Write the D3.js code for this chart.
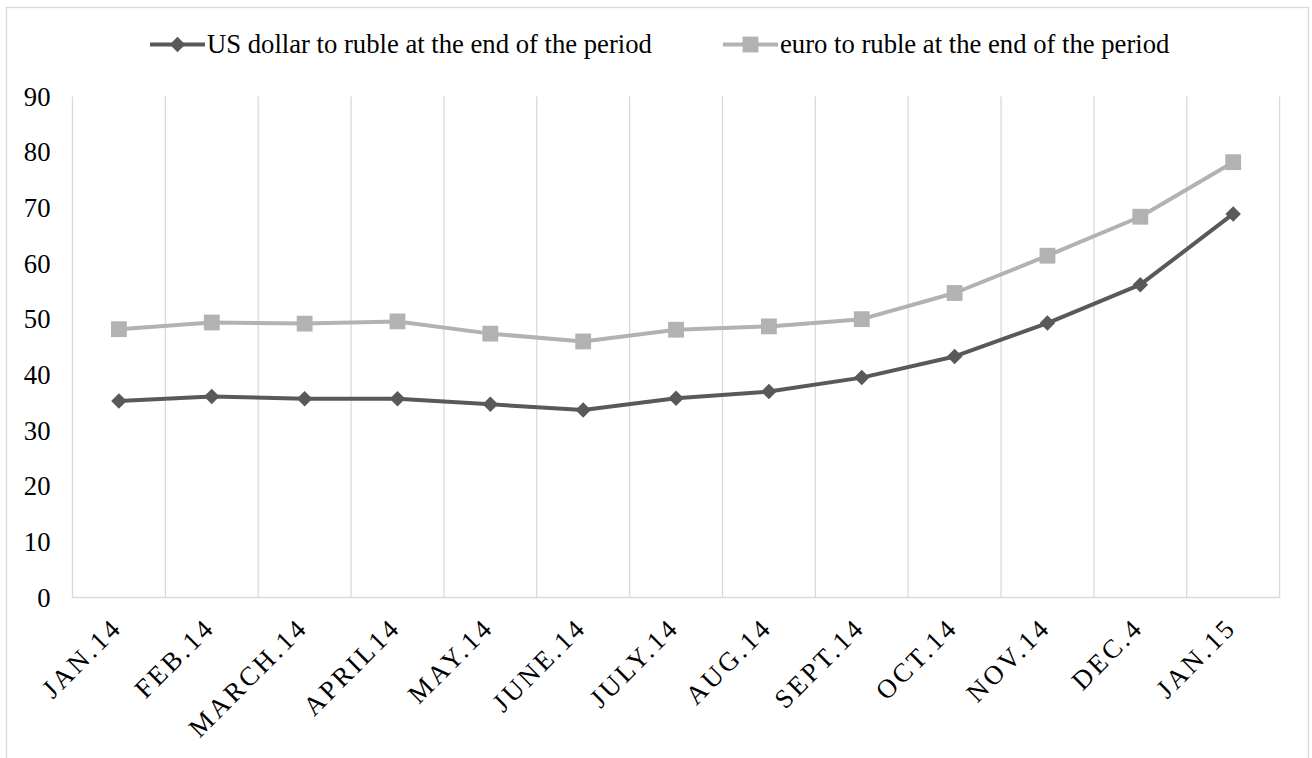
<!DOCTYPE html>
<html>
<head>
<meta charset="utf-8">
<script src="https://cdn.jsdelivr.net/npm/d3@7"></script>
<style>
  html, body { margin: 0; padding: 0; background: #ffffff; }
  svg { display: block; }
  text { font-family: "Liberation Serif", "Times New Roman", serif; fill: #000; }
</style>
</head>
<body>
<svg id="chart" width="1312" height="758"></svg>
<script>
// Monthly end-of-period exchange rates, rubles per unit of currency
const months = ["JAN.14", "FEB.14", "MARCH.14", "APRIL14", "MAY.14", "JUNE.14", "JULY.14",
                "AUG.14", "SEPT.14", "OCT.14", "NOV.14", "DEC.4", "JAN.15"];
const usdRub = [35.3, 36.1, 35.7, 35.7, 34.7, 33.7, 35.8, 37.0, 39.5, 43.3, 49.3, 56.2, 68.9];
const eurRub = [48.2, 49.4, 49.2, 49.6, 47.4, 46.0, 48.1, 48.7, 50.0, 54.7, 61.4, 68.4, 78.2];
const yTicks = [0, 10, 20, 30, 40, 50, 60, 70, 80, 90];
const seriesNames = ["US dollar to ruble at the end of the period",
                     "euro to ruble at the end of the period"];

const svg = d3.select("#chart");
const W = 1312, H = 758;
const plot = { left: 72.5, right: 1279.6, top: 96.5, bottom: 597.5 };
const grid = "#d9d9d9";
const colUsd = "#595959", colEur = "#b2b2b2";
const fontPx = 26.67;
const serif = "Liberation Serif, Times New Roman, serif";

// Outer chart frame
svg.append("rect")
  .attr("x", 6.5).attr("y", 7.5)
  .attr("width", 1302).attr("height", H + 20)
  .attr("fill", "#fff").attr("stroke", grid).attr("stroke-width", 1.3);

const x = d3.scaleBand().domain(months).range([plot.left, plot.right]).paddingInner(0).paddingOuter(0);
const y = d3.scaleLinear().domain([0, 90]).range([plot.bottom, plot.top]);
const cx = d => x(d) + x.bandwidth() / 2;

// Vertical gridlines on category boundaries
const bounds = months.map(m => x(m)).concat([x.range()[1]]);
svg.append("g").selectAll("line").data(bounds).join("line")
  .attr("x1", d => d).attr("x2", d => d)
  .attr("y1", y(90)).attr("y2", y(0))
  .attr("stroke", grid).attr("stroke-width", 1.3);

// Category axis line
svg.append("line")
  .attr("x1", plot.left).attr("x2", plot.right)
  .attr("y1", y(0)).attr("y2", y(0))
  .attr("stroke", grid).attr("stroke-width", 1.5);

// Value axis labels
const yAxis = svg.append("g").attr("transform", `translate(${plot.left},0)`)
  .call(d3.axisLeft(y).tickValues(yTicks).tickSize(0).tickPadding(22));
yAxis.attr("font-family", serif);
yAxis.select(".domain").remove();
yAxis.selectAll("text")
  .attr("font-family", serif).attr("font-size", fontPx).attr("fill", "#000");

// Rotated category labels
const xAxis = svg.append("g").attr("transform", `translate(0,${y(0)})`)
  .call(d3.axisBottom(x).tickSize(0).tickPadding(0));
xAxis.attr("font-family", serif);
xAxis.select(".domain").remove();
xAxis.selectAll(".tick text")
  .attr("font-family", serif).attr("font-size", fontPx).attr("fill", "#000")
  .attr("letter-spacing", 3)
  .attr("text-anchor", "end").attr("dy", null).attr("y", 0)
  .attr("transform", "translate(4.6,31.5) rotate(-45)");

// Series lines and markers
const line = d3.line().x((d, i) => cx(months[i])).y(d => y(d));
const squareSym = d3.symbol().type(d3.symbolSquare).size(250);
const diamondSym = d3.symbol().type(d3.symbolSquare).size(120); // square turned 45°

svg.append("path").datum(eurRub).attr("d", line)
  .attr("fill", "none").attr("stroke", colEur).attr("stroke-width", 4).attr("stroke-linejoin", "round");
svg.append("g").selectAll("path").data(eurRub).join("path")
  .attr("transform", (d, i) => `translate(${cx(months[i])},${y(d)})`)
  .attr("d", squareSym).attr("fill", colEur);

svg.append("path").datum(usdRub).attr("d", line)
  .attr("fill", "none").attr("stroke", colUsd).attr("stroke-width", 4).attr("stroke-linejoin", "round");
svg.append("g").selectAll("path").data(usdRub).join("path")
  .attr("d", diamondSym).attr("fill", colUsd)
  .attr("transform", (d, i) => `translate(${cx(months[i])},${y(d)}) rotate(45)`);

// Legend
const legend = [
  { name: seriesNames[0], color: colUsd, marker: "diamond", x0: 150 },
  { name: seriesNames[1], color: colEur, marker: "square", x0: 723 }
];
const ly = 44.5;
const lg = svg.append("g").selectAll("g").data(legend).join("g")
  .attr("transform", d => `translate(${d.x0},${ly})`);
lg.append("line").attr("x1", 0).attr("x2", 55).attr("y1", 0).attr("y2", 0)
  .attr("stroke", d => d.color).attr("stroke-width", 4);
lg.append("path")
  .attr("d", d => d.marker === "diamond" ? diamondSym() : squareSym())
  .attr("transform", d => d.marker === "diamond" ? "translate(27.5,0) rotate(45)" : "translate(27.5,0)")
  .attr("fill", d => d.color);
lg.append("text").attr("x", 57).attr("y", 0).attr("dy", "0.33em")
  .attr("font-family", serif).attr("font-size", fontPx).text(d => d.name);
</script>
</body>
</html>
